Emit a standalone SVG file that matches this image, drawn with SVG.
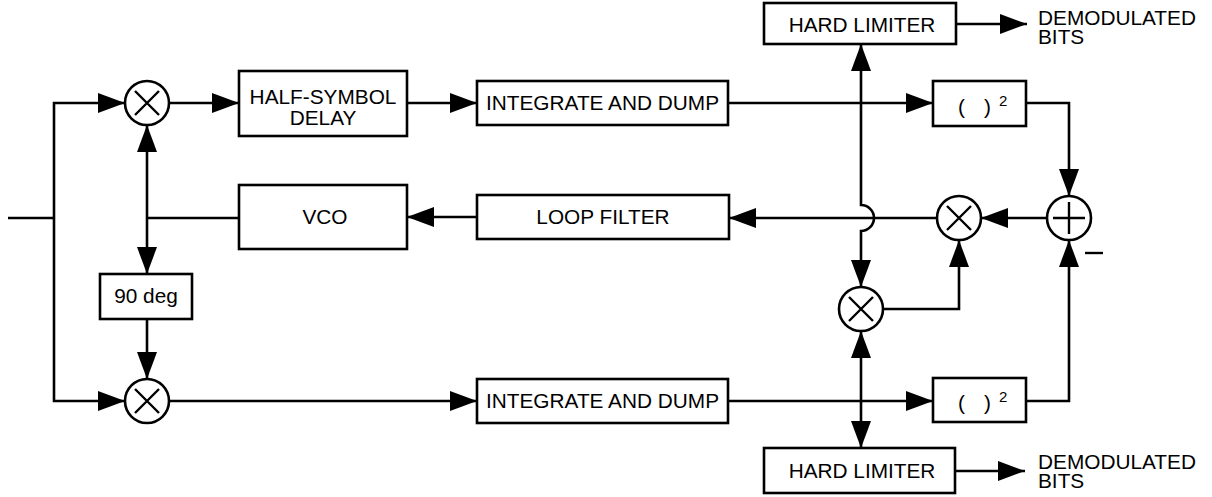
<svg xmlns="http://www.w3.org/2000/svg" width="1212" height="497" viewBox="0 0 1212 497">
  <style>
    .box { fill: #fff; stroke: #000; stroke-width: 2.6; }
    .op { fill: #fff; stroke: #000; stroke-width: 2.6; }
    .sym { fill: none; stroke: #000; stroke-width: 2.4; }
    .wire { fill: none; stroke: #000; stroke-width: 2.6; }
    .arr { marker-end: url(#head); }
    .both { marker-start: url(#head); marker-end: url(#head); }
    text { font-family: "Liberation Sans", Arial, sans-serif; font-size: 20.8px; fill: #000; }
    .c { text-anchor: middle; }
    .sup { font-size: 15px; }
  </style>
  <defs>
    <marker id="head" markerUnits="userSpaceOnUse" markerWidth="28" markerHeight="20" refX="27" refY="10" orient="auto-start-reverse">
      <path d="M0,0 L27,10 L0,20 Z" fill="#000"/>
    </marker>
  </defs>

  <!-- signal paths -->
  <g id="connectors">
    <path class="wire" d="M8,218 H54"/>
    <path class="wire arr" d="M54,218 V103 H125"/>
    <path class="wire arr" d="M54,218 V401 H125"/>
    <path class="wire arr" d="M169,103 H239"/>
    <path class="wire arr" d="M407,103 H477"/>
    <path class="wire arr" d="M728,103 H933"/>
    <path class="wire arr" d="M1026,103 H1069 V196"/>
    <path class="wire arr" d="M1026,401 H1069 V240"/>
    <path class="wire arr" d="M1047,218 H981"/>
    <path class="wire arr" d="M937,218 H729"/>
    <path class="wire arr" d="M477,217 H407"/>
    <path class="wire" d="M239,218 H147"/>
    <path class="wire both" d="M147,125 V274"/>
    <path class="wire arr" d="M147,319 V379"/>
    <path class="wire arr" d="M169,401 H477"/>
    <path class="wire arr" d="M728,401 H933"/>
    <path class="wire arr" d="M882,309 H959 V240"/>
    <path class="wire both" d="M861,44 V205 A13,13 0 0 1 861,231 V287"/>
    <path class="wire both" d="M861,331 V448"/>
    <path class="wire arr" d="M956,24 H1027"/>
    <path class="wire arr" d="M955,471 H1025"/>
  </g>

  <!-- multipliers and summer -->
  <g id="mixer-i">
    <circle class="op" cx="147" cy="103" r="22"/>
    <path class="sym" d="M135,91 L159,115 M159,91 L135,115"/>
  </g>
  <g id="mixer-q">
    <circle class="op" cx="147" cy="401" r="22"/>
    <path class="sym" d="M135,389 L159,413 M159,389 L135,413"/>
  </g>
  <g id="mixer-error">
    <circle class="op" cx="959" cy="218" r="22"/>
    <path class="sym" d="M947,206 L971,230 M971,206 L947,230"/>
  </g>
  <g id="mixer-iq">
    <circle class="op" cx="861" cy="309" r="22"/>
    <path class="sym" d="M849,297 L873,321 M873,297 L849,321"/>
  </g>
  <g id="summer">
    <circle class="op" cx="1069" cy="218" r="22"/>
    <path class="sym" d="M1053,218 H1085 M1069,202 V234"/>
    <path class="sym" d="M1085,253 H1103" stroke-width="2.8"/>
  </g>

  <!-- blocks -->
  <g id="half-symbol-delay">
    <rect class="box" x="239" y="71" width="168" height="65"/>
    <text class="c" x="323" y="104">HALF-SYMBOL</text>
    <text class="c" x="323" y="125">DELAY</text>
  </g>
  <g id="integrate-i">
    <rect class="box" x="477" y="81" width="251" height="44"/>
    <text class="c" x="602.5" y="110">INTEGRATE AND DUMP</text>
  </g>
  <g id="integrate-q">
    <rect class="box" x="477" y="379" width="251" height="44"/>
    <text class="c" x="602.5" y="408">INTEGRATE AND DUMP</text>
  </g>
  <g id="square-i">
    <rect class="box" x="933" y="81" width="93" height="45"/>
    <text x="958" y="114">(</text>
    <text x="984" y="114">)</text>
    <text class="sup" x="999" y="106">2</text>
  </g>
  <g id="square-q">
    <rect class="box" x="933" y="378" width="93" height="44"/>
    <text x="958" y="410">(</text>
    <text x="984" y="410">)</text>
    <text class="sup" x="999" y="402">2</text>
  </g>
  <g id="vco">
    <rect class="box" x="239" y="185" width="168" height="64"/>
    <text class="c" x="325" y="224">VCO</text>
  </g>
  <g id="loop-filter">
    <rect class="box" x="477" y="195" width="252" height="44"/>
    <text class="c" x="603" y="224">LOOP FILTER</text>
  </g>
  <g id="phase-shift">
    <rect class="box" x="100" y="274" width="92" height="45"/>
    <text class="c" x="146" y="303">90 deg</text>
  </g>
  <g id="limiter-i">
    <rect class="box" x="764" y="3" width="192" height="41"/>
    <text class="c" x="862" y="32">HARD LIMITER</text>
    <text x="1038" y="25">DEMODULATED</text>
    <text x="1038" y="44">BITS</text>
  </g>
  <g id="limiter-q">
    <rect class="box" x="764" y="448" width="191" height="45"/>
    <text class="c" x="862" y="478">HARD LIMITER</text>
    <text x="1038" y="469">DEMODULATED</text>
    <text x="1038" y="488">BITS</text>
  </g>
</svg>
